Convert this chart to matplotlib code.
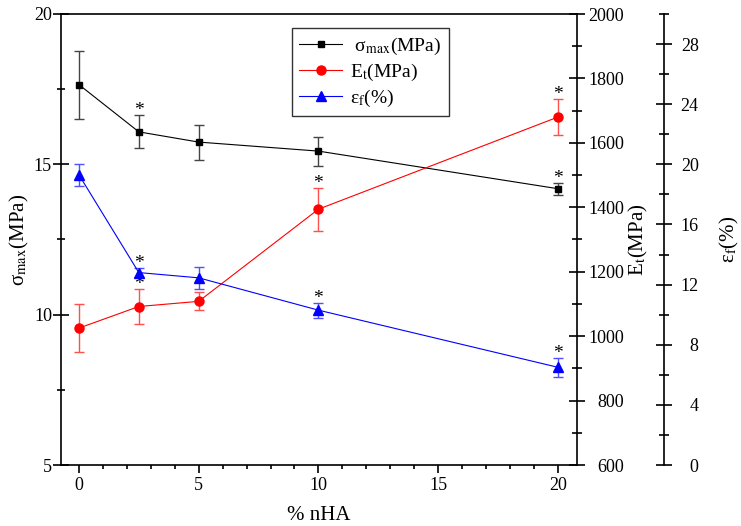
import numpy as np
import matplotlib
matplotlib.use('Agg')
import matplotlib.pyplot as plt
from matplotlib.ticker import MultipleLocator
from matplotlib.lines import Line2D

plt.rcParams['font.family'] = ['Liberation Serif', 'DejaVu Serif']
plt.rcParams['mathtext.fontset'] = 'stix'

# data
nha = [0, 2.5, 5, 10, 20]
sigma = [17.65, 16.08, 15.74, 15.44, 14.19]
sigma_err = [1.13, 0.55, 0.58, 0.48, 0.20]
E = [1025, 1092, 1108, 1394, 1680]
E_err = [74, 54, 28, 67, 56]
eps = [19.3, 12.8, 12.45, 10.3, 6.5]
eps_err = [0.75, 0.30, 0.75, 0.50, 0.65]
# points marked with * (significant)
sig_sigma = [False, True, False, False, True]
sig_E = [False, True, False, True, True]
sig_eps = [False, True, False, True, True]

fig = plt.figure(figsize=(7.41, 5.26), dpi=100)
ax = fig.add_axes([61/741, 61/526, 516/741, 451/526])
ax2 = ax.twinx()
ax3 = ax.twinx()

for a in (ax, ax2, ax3):
    for s in a.spines.values():
        s.set_linewidth(1.2)

ax3.spines['right'].set_position(('axes', (664 - 61) / 516))
for s in ['left', 'top', 'bottom']:
    ax3.spines[s].set_visible(False)
    ax2.spines[s].set_visible(False)

styles = [
    dict(color='black', marker='s', ms=5, ecolor='#444444'),
    dict(color='#ff0000', marker='o', ms=6.5, ecolor='#ff5050'),
    dict(color='#0000ff', marker='^', ms=7.5, ecolor='#5050ff'),
]

ax.errorbar(nha, sigma, yerr=sigma_err, lw=0.8, elinewidth=1.0, capsize=3.5, capthick=1.0, **styles[0])
ax2.errorbar(nha, E, yerr=E_err, lw=0.8, elinewidth=1.0, capsize=3.5, capthick=1.0, **styles[1])
ax3.errorbar(nha, eps, yerr=eps_err, lw=0.8, elinewidth=1.0, capsize=3.5, capthick=1.0, **styles[2])

def stars(a, xs, ys, es, flags):
    for xv, yv, ev, f in zip(xs, ys, es, flags):
        if f:
            a.annotate('*', (xv, yv + ev), xytext=(0, -3), textcoords='offset points',
                       ha='center', va='bottom', fontsize=14)

stars(ax, nha, sigma, sigma_err, sig_sigma)
stars(ax2, nha, E, E_err, sig_E)
stars(ax3, nha, eps, eps_err, sig_eps)

ax.set_xlim(-0.75, 20.8)
ax.set_ylim(5, 20)
ax2.set_ylim(600, 2000)
ax3.set_ylim(0, 30)

ax.xaxis.set_major_locator(MultipleLocator(5))
ax.xaxis.set_minor_locator(MultipleLocator(1))
ax.yaxis.set_major_locator(MultipleLocator(5))
ax.yaxis.set_minor_locator(MultipleLocator(2.5))
ax2.yaxis.set_major_locator(MultipleLocator(200))
ax2.yaxis.set_minor_locator(MultipleLocator(100))
ax3.yaxis.set_major_locator(MultipleLocator(4))
ax3.yaxis.set_minor_locator(MultipleLocator(2))

ax.tick_params(axis='x', which='major', direction='out', length=6, width=1.2, labelsize=13, pad=3)
ax.tick_params(axis='x', which='minor', direction='out', length=3, width=1.2)
ax.tick_params(axis='y', which='major', direction='inout', length=11, width=1.2, labelsize=13, pad=1)
ax.tick_params(axis='y', which='minor', direction='inout', length=6, width=1.2)
ax.tick_params(top=False, right=False, which='both')
ax.spines['right'].set_visible(False)

for a, pad in ((ax2, 28), (ax3, 19)):
    a.tick_params(axis='y', which='major', direction='inout', length=12, width=1.2, labelsize=13, pad=pad)
    a.tick_params(axis='y', which='minor', direction='inout', length=7, width=1.2)
    for t in a.get_yticklabels():
        t.set_horizontalalignment('right')

ax.set_xlabel('% nHA', fontsize=15, labelpad=8)
ax.set_ylabel(r'σ$_{\mathrm{max}}$(MPa)', fontsize=15, labelpad=2)
ax2.set_ylabel(r'E$_{\mathrm{t}}$(MPa)', fontsize=15, labelpad=2)
ax3.set_ylabel(r'ε$_{\mathrm{f}}$(%)', fontsize=15, labelpad=14)

handles = [Line2D([], [], lw=0.8, color=st['color'], marker=st['marker'], ms=st['ms']) for st in styles]
leg = ax.legend(handles,
                [r' σ$_{\mathrm{max}}$(MPa)', r'E$_{\mathrm{t}}$(MPa)', r'ε$_{\mathrm{f}}$(%)'],
                loc='upper left', bbox_to_anchor=(0.428, 0.991), fontsize=14,
                frameon=True, fancybox=False, edgecolor='#333333', framealpha=1,
                handlelength=2.2, handletextpad=0.4, borderpad=0.4, labelspacing=0.25)
leg.get_frame().set_linewidth(1.0)

fig.savefig('out.png', dpi=100)
